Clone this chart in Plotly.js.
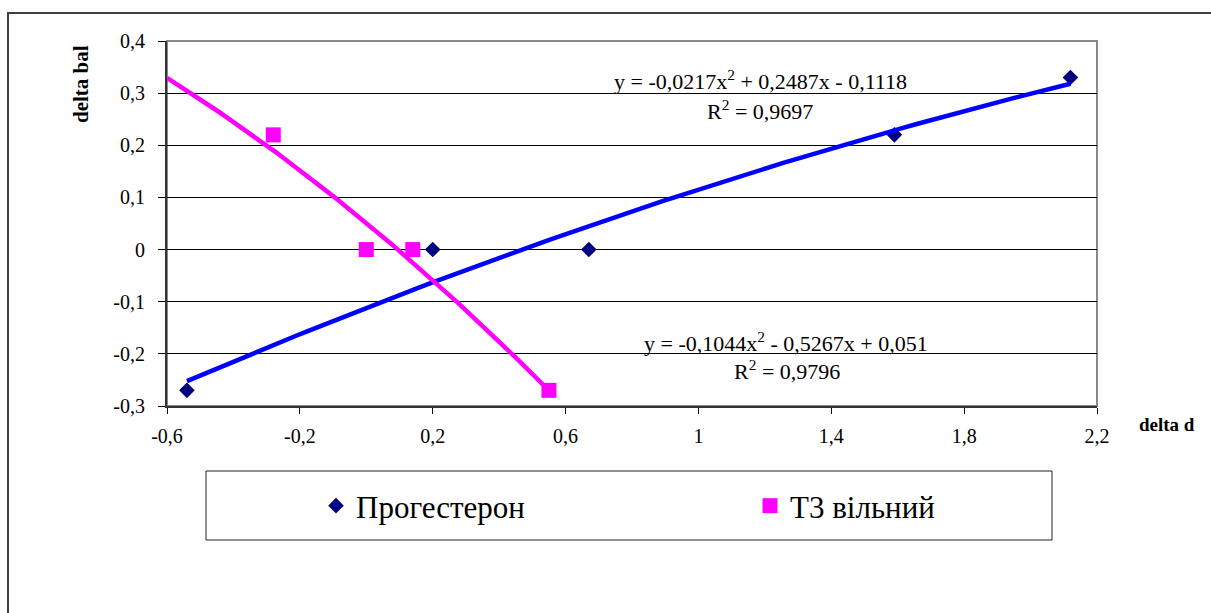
<!DOCTYPE html>
<html>
<head>
<meta charset="utf-8">
<script src="https://cdn.plot.ly/plotly-3.0.1.min.js"></script>
<style>
  html, body { margin: 0; padding: 0; background: #fff; }
  #wrap { position: relative; width: 1211px; height: 613px; overflow: hidden; }
  #chart { position: absolute; left: 0; top: 0; width: 1211px; height: 613px; }
  #frame { position: absolute; left: 7px; top: 12px; width: 1300px; height: 700px;
           border-left: 2px solid #404040; border-top: 2px solid #404040; pointer-events: none; }
</style>
</head>
<body>
<div id="wrap">
  <div id="chart"></div>
  <div id="frame"></div>
</div>
<script>
// ---- data ----
const progName = 'Прогестерон';
const progX = [-0.54, 0.2, 0.67, 1.59, 2.12];
const progY = [-0.27, 0, 0, 0.22, 0.33];

const t3Name = 'Т3 вільний';
const t3X = [-0.28, 0, 0.14, 0.55];
const t3Y = [0.22, 0, 0, -0.27];

// polynomial trendline coefficients [a, b, c] for y = a x^2 + b x + c (as printed on chart)
const progCoef = [-0.0217, 0.2487, -0.1118];
const t3Coef = [-0.1044, -0.5267, 0.051];
const progEq = 'y = -0,0217x<sup>2</sup> + 0,2487x - 0,1118';
const progR2 = 'R<sup>2</sup> = 0,9697';
const t3Eq = 'y = -0,1044x<sup>2</sup> - 0,5267x + 0,051';
const t3R2 = 'R<sup>2</sup> = 0,9796';

const xTicks = [-0.6, -0.2, 0.2, 0.6, 1, 1.4, 1.8, 2.2];
const xTickText = ['-0,6', '-0,2', '0,2', '0,6', '1', '1,4', '1,8', '2,2'];
const yTicks = [-0.3, -0.2, -0.1, 0, 0.1, 0.2, 0.3, 0.4];
const yTickText = ['-0,3', '-0,2', '-0,1', '0', '0,1', '0,2', '0,3', '0,4'];

// ---- trendline curves from the fitted coefficients ----
function curve(coef, x0, x1, n) {
  const xs = [], ys = [];
  for (let i = 0; i <= n; i++) {
    const x = x0 + (x1 - x0) * i / n;
    xs.push(x);
    ys.push(coef[0] * x * x + coef[1] * x + coef[2]);
  }
  return { x: xs, y: ys };
}
const progFit = curve(progCoef, Math.min(...progX), Math.max(...progX), 80);
const t3Fit = curve(t3Coef, -0.6, Math.max(...t3X), 80);

const FONT = 'Liberation Serif';

const traces = [
  { x: progX, y: progY, name: progName, type: 'scatter', mode: 'markers', legend: 'legend',
    marker: { symbol: 'diamond', size: 12, color: '#000080' } },
  { x: t3X, y: t3Y, name: t3Name, type: 'scatter', mode: 'markers', legend: 'legend2',
    marker: { symbol: 'square', size: 15, color: '#FF00FF' } },
  { x: progFit.x, y: progFit.y, type: 'scatter', mode: 'lines', showlegend: false,
    line: { color: '#0000FF', width: 4.5 }, hoverinfo: 'skip' },
  { x: t3Fit.x, y: t3Fit.y, type: 'scatter', mode: 'lines', showlegend: false,
    line: { color: '#FF00FF', width: 4.5 }, hoverinfo: 'skip' }
];

// layout helpers (plot area 167..1097 x 41..406)
const L = 167, R = 1097, T = 41, B = 406;
const px = X => (X - L) / (R - L);
const py = Y => (B - Y) / (B - T);

function legendAt(xpix) {
  return {
    orientation: 'h', x: px(xpix), xanchor: 'left', y: py(506), yanchor: 'middle',
    font: { family: FONT, size: 31, color: '#000' },
    bgcolor: 'rgba(0,0,0,0)', borderwidth: 0
  };
}

function ann(text, xpix, ypix, size, extra) {
  return Object.assign({ text: text, xref: 'paper', yref: 'paper', x: px(xpix), y: py(ypix),
    xanchor: 'center', yanchor: 'middle', showarrow: false,
    font: { family: FONT, size: size, color: '#000' } }, extra || {});
}

const layout = {
  width: 1211, height: 613,
  margin: { l: L, r: 1211 - R, t: T, b: 613 - B, pad: 0 },
  paper_bgcolor: 'rgba(0,0,0,0)',
  plot_bgcolor: '#fff',
  font: { family: FONT, size: 20, color: '#000' },
  showlegend: true,
  legend: legendAt(316),
  legend2: legendAt(750),
  xaxis: {
    range: [-0.6, 2.2], tickmode: 'array', tickvals: xTicks, ticktext: xTickText,
    showgrid: false, zeroline: false,
    showline: true, linecolor: '#333', linewidth: 2,
    ticks: 'outside', ticklen: 6, tickwidth: 1, tickcolor: '#000',
    ticklabelstandoff: 5,
    tickfont: { family: FONT, size: 20, color: '#000' }
  },
  yaxis: {
    range: [-0.3, 0.4], tickmode: 'array', tickvals: yTicks, ticktext: yTickText,
    showgrid: true, gridcolor: '#000', gridwidth: 1, zeroline: false,
    showline: true, linecolor: '#333', linewidth: 2,
    ticks: 'outside', ticklen: 7, tickwidth: 1, tickcolor: '#000',
    ticklabelstandoff: 9,
    tickfont: { family: FONT, size: 20, color: '#000' }
  },
  shapes: [
    // plot area frame (grey top/right)
    { type: 'rect', xref: 'paper', yref: 'paper', x0: 0, x1: 1, y0: 0, y1: 1,
      line: { color: '#888', width: 2 }, layer: 'below' },
    // legend box
    { type: 'rect', xref: 'paper', yref: 'paper', x0: px(206), x1: px(1052), y0: py(540), y1: py(471),
      line: { color: '#222', width: 1 }, fillcolor: 'rgba(0,0,0,0)' }
  ],
  annotations: [
    ann('<b>delta bal</b>', 81, 84, 21, { textangle: -90 }),
    ann('<b>delta d</b>', 1167, 424, 19),
    ann(progEq, 760, 80, 22),
    ann(progR2, 760, 110, 22),
    ann(t3Eq, 786, 342, 22),
    ann(t3R2, 787, 370, 22)
  ]
};

Plotly.newPlot('chart', traces, layout, { displayModeBar: false, staticPlot: true });
</script>
</body>
</html>
